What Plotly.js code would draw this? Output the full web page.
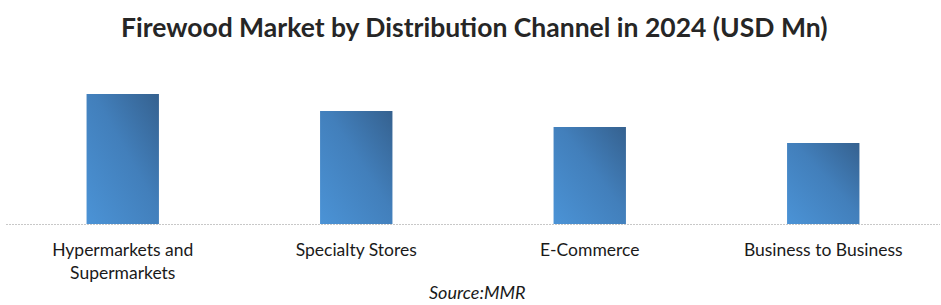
<!DOCTYPE html>
<html><head><meta charset="utf-8">
<script src="https://cdn.plot.ly/plotly-3.0.1.min.js"></script>
<style>html,body{margin:0;padding:0;background:#fff;}#chart{width:941px;height:305px;}</style>
</head><body><div id="chart"></div>
<script>
const categories = ["Hypermarkets and<br>Supermarkets", "Specialty Stores", "E-Commerce", "Business to Business"];
const values = [130, 113, 97, 81];
const titleText = "Firewood Market by Distribution Channel in 2024 (USD Mn)";
const sourceText = "Source:MMR";

const trace = {
  type: "bar", x: categories, y: values,
  marker: {color: "#4383c0", line: {width: 0}},
  hoverinfo: "none"
};
const layout = {
  width: 941, height: 305,
  margin: {l: 6, r: 1, t: 70, b: 81},
  paper_bgcolor: "#fff", plot_bgcolor: "#fff",
  bargap: 0.69,
  showlegend: false,
  title: {text: "<b>" + titleText + "</b>", x: 0.504, xanchor: "center", y: 0.91, yanchor: "middle",
    font: {family: "Lato, 'Open Sans', sans-serif", size: 26.5, color: "#262626"}},
  xaxis: {showline: true, linecolor: "#c8c8c8", linewidth: 1, ticks: "", showgrid: false,
    ticklabelstandoff: 10,
    tickfont: {family: "Lato, 'Open Sans', sans-serif", size: 17.5, color: "#1a1a1a"}, fixedrange: true},
  yaxis: {range: [0, 154], visible: false, showgrid: false, zeroline: false, fixedrange: true},
  annotations: [{text: "<i>" + sourceText + "</i>", xref: "paper", yref: "paper", x: 0.504, y: -0.443,
    xanchor: "center", yanchor: "middle", showarrow: false,
    font: {family: "Lato, 'Open Sans', sans-serif", size: 18, color: "#1a1a1a"}}]
};
Plotly.newPlot("chart", [trace], layout, {staticPlot: true}).then(function(gd){
  const svg = gd.querySelector("svg.main-svg");
  const ns = "http://www.w3.org/2000/svg";
  let defs = svg.querySelector("defs");
  const g = document.createElementNS(ns, "linearGradient");
  g.setAttribute("id", "barGrad");
  g.setAttribute("x1", "0"); g.setAttribute("y1", "1"); g.setAttribute("x2", "1"); g.setAttribute("y2", "0");
  [["0", "#4b93d6"], ["0.55", "#427fbb"], ["1", "#35618f"]].forEach(function(s){
    const st = document.createElementNS(ns, "stop");
    st.setAttribute("offset", s[0]); st.setAttribute("stop-color", s[1]);
    g.appendChild(st);
  });
  defs.appendChild(g);
  gd.querySelectorAll(".bars .point path").forEach(function(p){ p.style.fill = "url(#barGrad)"; });
  const xl = gd.querySelector(".xlines-above");
  if (xl) { xl.style.strokeDasharray = "2,1"; }
});
</script></body></html>
